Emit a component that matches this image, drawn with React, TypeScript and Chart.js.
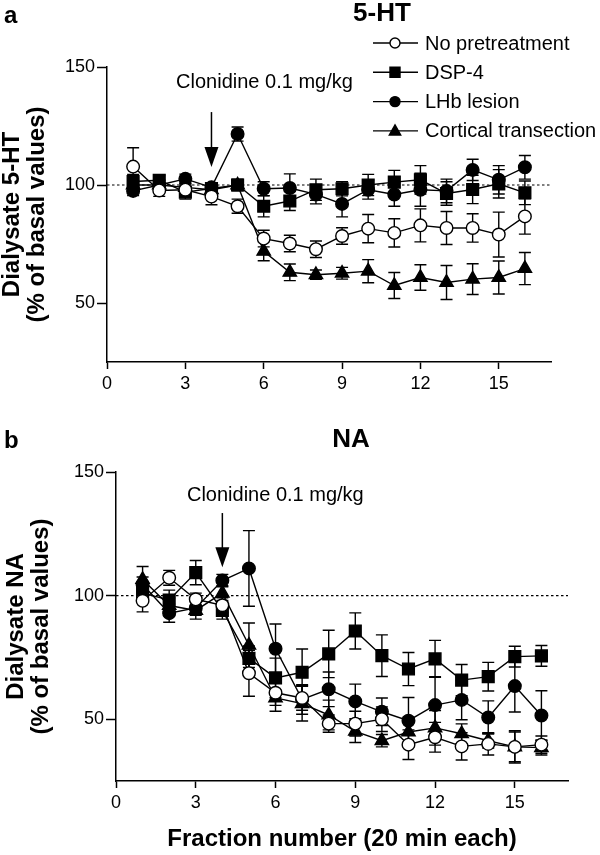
import React, { useEffect, useRef } from 'react';
import { Chart, registerables } from 'chart.js';

Chart.register(...registerables);

// ---------- data ----------
const fractions = [1, 2, 3, 4, 5, 6, 7, 8, 9, 10, 11, 12, 13, 14, 15, 16];
const xTickValues = [0, 3, 6, 9, 12, 15];
const yTickValues = [50, 100, 150];
const seriesNames = ['No pretreatment', 'DSP-4', 'LHb lesion', 'Cortical transection'];

// Panel a: 5-HT (% of basal values)
const htNoPretreatment = [107.8, 97.7, 98, 95.1, 91, 77.3, 75.2, 72.8, 78.4, 81.5, 79.7, 82.9, 81.8, 81.8, 79, 86.7];
const htNoPretreatmentErr = [8, 2.5, 2.5, 3.5, 3, 3.5, 3.5, 3.5, 3.5, 6, 6, 7, 7, 6, 9.5, 7.5];
const htDsp4 = [101.5, 102, 97, 98.5, 100, 91, 93.2, 98, 98.4, 100, 101.2, 102.2, 96.4, 98.1, 100.5, 96.7];
const htDsp4Err = [3, 2, 3, 2, 2.5, 4.5, 4, 4.5, 3, 4.5, 5, 6, 5, 6, 6, 5];
const htLhb = [97.5, 100, 102.6, 99, 121.6, 98.4, 98.7, 96, 92, 98, 96, 98, 97.5, 106.4, 102.2, 107.5];
const htLhbErr = [2, 2, 2, 2, 3, 3, 6, 4, 5.5, 4, 5, 7, 5, 4.5, 6, 5];
const htCortical = [100, 100, 99, 98, 100, 71.9, 63, 62, 62.6, 63.5, 57.4, 60.8, 58.7, 60.1, 60.8, 64.6];
const htCorticalErr = [2, 2, 2, 2, 2, 4, 3.5, 2, 2.5, 4.9, 5.5, 5.4, 7.2, 6.5, 7, 6.8];

// Panel b: NA (% of basal values)
const naNoPretreatment = [97.9, 107.2, 98.5, 96.1, 68.6, 60.7, 58.6, 48.2, 48.2, 50, 39.7, 42.7, 39, 40, 38.8, 39.7];
const naNoPretreatmentErr = [4.5, 3, 2.5, 3, 9.3, 7.5, 5, 3.5, 5, 5, 6, 6, 5.5, 4.5, 6.5, 3.5];
const naDsp4 = [101, 98.2, 109.3, 94, 74.6, 66.7, 69, 76.4, 85.7, 75.7, 70.3, 74.4, 65.8, 67.2, 75.3, 75.6];
const naDsp4Err = [3, 4, 4.9, 3.5, 5, 8, 9.4, 9.6, 7.3, 8.4, 6.7, 7.5, 6.3, 5.8, 4.2, 4.2];
const naLhb = [104.5, 92.9, 95, 106.1, 111, 78.5, 58, 62.1, 57.2, 53, 49.4, 55.7, 57.8, 50.7, 63.4, 51.5];
const naLhbErr = [3, 3.7, 3, 2.5, 15.3, 10, 6, 7, 7, 5.6, 9.4, 11.5, 8, 6.7, 10.5, 10];
const naCortical = [106.5, 96, 94, 101, 79.9, 58.6, 56.3, 51.7, 45.1, 41.3, 44.8, 46.5, 44.1, 41.3, 38.8, 38.5];
const naCorticalErr = [5.3, 3, 3.5, 3, 9, 3, 7, 6, 4.5, 2.5, 6, 7, 4, 3, 6, 3];

const baselineValue = 100;
const injectionFraction = 4;
const annotationText = 'Clonidine 0.1 mg/kg';

// ---------- styles ----------
const FONT = "'Liberation Sans', Arial, Helvetica, sans-serif";
const MARKERS = [
  { style: 'circle', fill: '#ffffff', radius: 6.3, legendR: 5 },
  { style: 'rect', fill: '#000000', radius: 8.3, legendR: 5 },
  { style: 'circle', fill: '#000000', radius: 6.3, legendR: 5 },
  { style: 'triangle', fill: '#000000', radius: 7.7, legendR: 6 },
];

function drawMarker(ctx: CanvasRenderingContext2D, style: string, x: number, y: number, r: number, fill: string) {
  ctx.beginPath();
  if (style === 'circle') {
    ctx.arc(x, y, r, 0, Math.PI * 2);
  } else if (style === 'rect') {
    ctx.rect(x - r, y - r, 2 * r, 2 * r);
  } else {
    ctx.moveTo(x, y - r);
    ctx.lineTo(x + r * 0.95, y + r * 0.7);
    ctx.lineTo(x - r * 0.95, y + r * 0.7);
    ctx.closePath();
  }
  ctx.fillStyle = fill;
  ctx.fill();
  ctx.stroke();
}

const decorPlugin = {
  id: 'panelDecor',
  beforeDatasetsDraw(chart: any, _args: any, opts: any) {
    const { ctx, chartArea, scales } = chart;
    const x = scales.x;
    const y = scales.y;
    ctx.save();
    // dotted baseline
    ctx.strokeStyle = '#000';
    ctx.lineWidth = 1.2;
    ctx.setLineDash([2.5, 2.5]);
    const by = y.getPixelForValue(baselineValue);
    ctx.beginPath();
    ctx.moveTo(chartArea.left, by);
    ctx.lineTo(chartArea.right, by);
    ctx.stroke();
    ctx.setLineDash([]);
    // error bars
    ctx.lineWidth = 1.4;
    const cap = 6;
    chart.data.datasets.forEach((ds: any) => {
      const errs: number[] = ds.errors || [];
      ds.data.forEach((p: any, j: number) => {
        const e = errs[j] || 0;
        const px = x.getPixelForValue(p.x);
        const top = y.getPixelForValue(p.y + e);
        const bot = y.getPixelForValue(p.y - e);
        ctx.beginPath();
        ctx.moveTo(px, top);
        ctx.lineTo(px, bot);
        ctx.moveTo(px - cap, top);
        ctx.lineTo(px + cap, top);
        ctx.moveTo(px - cap, bot);
        ctx.lineTo(px + cap, bot);
        ctx.stroke();
      });
    });
    ctx.restore();
  },
  afterDraw(chart: any, _args: any, opts: any) {
    const { ctx, scales } = chart;
    const x = scales.x;
    const y = scales.y;
    ctx.save();
    ctx.fillStyle = '#000';
    ctx.strokeStyle = '#000';
    // panel letter
    ctx.font = `bold 24px ${FONT}`;
    ctx.textAlign = 'left';
    ctx.textBaseline = 'middle';
    ctx.fillText(opts.letter, opts.letterX, opts.letterY);
    // panel title
    ctx.font = `bold 26px ${FONT}`;
    ctx.textAlign = 'center';
    ctx.fillText(opts.title, opts.titleX, opts.titleY);
    // injection annotation
    const ax = x.getPixelForValue(injectionFraction);
    ctx.font = `20px ${FONT}`;
    ctx.textAlign = 'center';
    ctx.fillText(annotationText, ax + 53, y.getPixelForValue(opts.textValue));
    const aTop = y.getPixelForValue(opts.arrowTop);
    const aTip = y.getPixelForValue(opts.arrowTip);
    ctx.lineWidth = 1.5;
    ctx.beginPath();
    ctx.moveTo(ax, aTop);
    ctx.lineTo(ax, aTip - 18);
    ctx.stroke();
    ctx.beginPath();
    ctx.moveTo(ax - 7, aTip - 20);
    ctx.lineTo(ax + 7, aTip - 20);
    ctx.lineTo(ax, aTip);
    ctx.closePath();
    ctx.fill();
    // legend
    if (opts.legend) {
      ctx.font = `20px ${FONT}`;
      ctx.textAlign = 'left';
      ctx.textBaseline = 'middle';
      ctx.lineWidth = 1.4;
      seriesNames.forEach((name, i) => {
        const ly = opts.legendY + i * opts.legendGap;
        ctx.beginPath();
        ctx.moveTo(opts.legendX, ly);
        ctx.lineTo(opts.legendX + 45, ly);
        ctx.stroke();
        const m = MARKERS[i];
        drawMarker(ctx, m.style, opts.legendX + 22, ly, m.legendR, m.fill);
        ctx.fillStyle = '#000';
        ctx.fillText(name, opts.legendX + 52, ly + 1);
      });
    }
    ctx.restore();
  },
};

function makeDatasets(values: number[][], errors: number[][]) {
  return values.map((vals, i) => ({
    label: seriesNames[i],
    data: vals.map((v, j) => ({ x: fractions[j], y: v })),
    errors: errors[i],
    borderColor: '#000',
    borderWidth: 1.4,
    pointStyle: MARKERS[i].style,
    pointRadius: MARKERS[i].radius,
    pointHoverRadius: MARKERS[i].radius,
    pointBackgroundColor: MARKERS[i].fill,
    pointBorderColor: '#000',
    pointBorderWidth: 1.4,
    fill: false,
    tension: 0,
  }));
}

interface PanelProps {
  height: number;
  top: number;
  left: number;
  right: number;
  plotTop: number;
  plotBottom: number;
  yTitle: string[];
  xTitle: string | null;
  yTitlePad: number;
  values: number[][];
  errors: number[][];
  decor: any;
}

function Panel(p: PanelProps) {
  const ref = useRef<HTMLCanvasElement | null>(null);
  useEffect(() => {
    if (!ref.current) return;
    Chart.defaults.font.family = FONT;
    Chart.defaults.color = '#000';
    const W = 600;
    const chart = new Chart(ref.current, {
      type: 'line',
      data: { datasets: makeDatasets(p.values, p.errors) as any },
      options: {
        responsive: false,
        animation: false,
        devicePixelRatio: 1,
        layout: { padding: { left: 0, right: W - p.right, top: p.plotTop, bottom: 0 } },
        plugins: {
          legend: { display: false },
          tooltip: { enabled: false },
          title: { display: false },
          panelDecor: p.decor,
        } as any,
        scales: {
          x: {
            type: 'linear',
            min: 0,
            max: 17,
            afterBuildTicks: (s: any) => {
              s.ticks = xTickValues.map((v) => ({ value: v }));
            },
            afterFit: (s: any) => {
              s.height = p.height - p.plotBottom;
            },
            grid: { drawOnChartArea: false, drawTicks: true, tickLength: 7, tickWidth: 1.5, tickColor: '#000' },
            border: { display: true, color: '#000', width: 1.5 },
            ticks: { color: '#000', font: { size: 18 }, padding: 4, maxRotation: 0, autoSkip: false },
            title: {
              display: !!p.xTitle,
              text: p.xTitle || '',
              color: '#000',
              font: { size: 24, weight: 'bold' },
              padding: { top: 0, bottom: 1 },
            },
          },
          y: {
            type: 'linear',
            min: 25,
            max: 150,
            afterBuildTicks: (s: any) => {
              s.ticks = yTickValues.map((v) => ({ value: v }));
            },
            afterFit: (s: any) => {
              s.width = p.left;
            },
            grid: { drawOnChartArea: false, drawTicks: true, tickLength: 10, tickWidth: 1.5, tickColor: '#000' },
            border: { display: true, color: '#000', width: 1.5 },
            ticks: { color: '#000', font: { size: 18 }, padding: 2 },
            title: {
              display: true,
              text: p.yTitle,
              color: '#000',
              font: { size: 24, weight: 'bold', lineHeight: 1.05 },
              padding: { top: p.yTitlePad, bottom: 0 },
            },
          },
        },
      } as any,
      plugins: [decorPlugin as any],
    });
    return () => chart.destroy();
  }, []);
  return (
    <canvas
      ref={ref}
      width={600}
      height={p.height}
      style={{ position: 'absolute', left: 0, top: p.top, width: 600, height: p.height, display: 'block' }}
    />
  );
}

export default function App() {
  return (
    <div style={{ position: 'absolute', left: 0, top: 0, width: 600, height: 855, background: '#fff' }}>
      <Panel
        height={425}
        top={0}
        left={107}
        right={551}
        plotTop={67}
        plotBottom={362}
        yTitle={['Dialysate 5-HT', '(% of basal values)']}
        xTitle={null}
        yTitlePad={0}
        values={[htNoPretreatment, htDsp4, htLhb, htCortical]}
        errors={[htNoPretreatmentErr, htDsp4Err, htLhbErr, htCorticalErr]}
        decor={{
          letter: 'a', letterX: 4, letterY: 16,
          title: '5-HT', titleX: 382, titleY: 14,
          textValue: 143.6, arrowTop: 130.9, arrowTip: 107.6,
          legend: true, legendX: 373, legendY: 43, legendGap: 29.3,
        }}
      />
      <Panel
        height={430}
        top={425}
        left={116}
        right={568}
        plotTop={47}
        plotBottom={356}
        yTitle={['Dialysate NA', '(% of basal values)']}
        xTitle={'Fraction number (20 min each)'}
        yTitlePad={4}
        values={[naNoPretreatment, naDsp4, naLhb, naCortical]}
        errors={[naNoPretreatmentErr, naDsp4Err, naLhbErr, naCorticalErr]}
        decor={{
          letter: 'b', letterX: 4, letterY: 16,
          title: 'NA', titleX: 351, titleY: 15,
          textValue: 140.7, arrowTop: 133.4, arrowTip: 111.5,
          legend: false,
        }}
      />
    </div>
  );
}
